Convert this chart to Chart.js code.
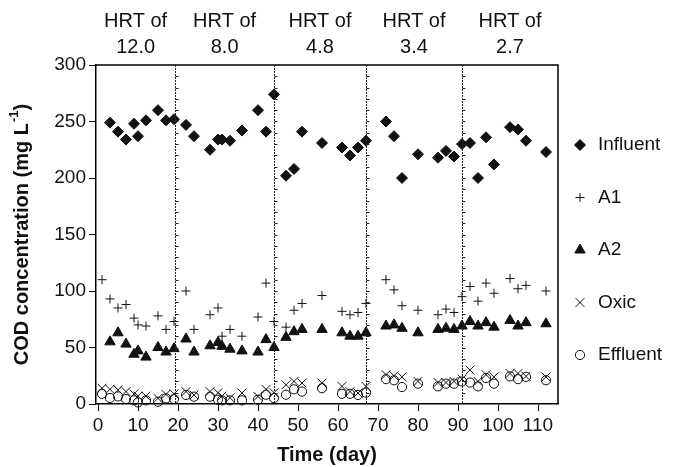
<!DOCTYPE html>
<html>
<head>
    <title>COD concentration</title>
    <script src="https://cdn.jsdelivr.net/npm/chart.js"></script>
    <style>
        body {
            margin: 0;
            background-color: #fff;
        }
        #chartBox {
            width: 673px;
            height: 467px;
        }
    </style>
</head>
<body>
    <div id="chartBox">
        <canvas id="codChart"></canvas>
    </div>

    <script>
        // sampling days
        const days = [1, 3, 5, 7, 9, 10, 12, 15, 17, 19, 22, 24, 28, 30, 31, 33, 36, 40, 42, 44,
                      47, 49, 51, 56, 61, 63, 65, 67, 72, 74, 76, 80, 85, 87, 89, 91, 93, 95, 97, 99,
                      103, 105, 107, 112];

        // COD values (mg/L), null = not measured
        const influent = [null, 249, 241, 234, 248, 237, 251, 260, 251, 252, 247, 237, 225, 234, 234, 233, 242, 260, 241, 274,
                          202, 208, 241, 231, 227, 220, 227, 233, 250, 237, 200, 221, 218, 224, 219, 230, 231, 200, 236, 212,
                          245, 243, 233, 223];
        const a1 = [110, 93, 85, 88, 76, 70, 69, 78, 66, 73, 100, 66, 79, 85, 60, 66, 60, 77, 107, 73,
                    68, 83, 89, 96, 82, 79, 81, 89, 110, 101, 87, 83, 79, 84, 81, 95, 104, 91, 107, 98,
                    111, 102, 105, 100];
        const a2 = [null, 55, 63, 53, 44, 47, 41.5, 50, 46, 49, 57.5, 46, 51.5, 54.5, 51, 48.5, 47, 46, 57, 50,
                    59, 64, 66, 66, 63, 60, 60, 63, 69, 70, 67, 63, 66, 67, 66, 69, 73, 69, 72, 68,
                    74, 69, 72, 71];
        const oxic = [14, 13, 12.5, 11, 9, 7, 7, 5, 8.5, 9, 11, 8, 11, 10, 7, 5.5, 9.7, 6.7, 13, 10,
                      17, 20, 18.5, 18.6, 15.6, 11, 9.7, 15.6, 26, 25, 24, 20, 19, 19, 20, 22, 30, 20, 26, 24,
                      27, 27, 24.5, 24];
        const effluent = [9, 5.3, 6.7, 4.4, 3.2, 1.4, 3.2, 2, 5, 4.4, 8, 6.5, 6.5, 3.8, 3.2, 3.2, 3.2, 3.8, 8.2, 5.3,
                          8.2, 13, 11, 14, 9, 9, 8, 10, 22, 21, 15, 18, 15.6, 18, 18, 20, 19, 15.6, 23, 18,
                          24.4, 22, 24, 21];

        const xTicks = [0, 10, 20, 30, 40, 50, 60, 70, 80, 90, 100, 110];
        const hrtChanges = [19.3, 44, 67, 91];      // days where HRT changed
        const hrtLabels = ['12.0', '8.0', '4.8', '3.4', '2.7'];
        const seriesNames = ['Influent', 'A1', 'A2', 'Oxic', 'Effluent'];

        function toPoints(values) {
            var pts = [];
            for (var i = 0; i < days.length; i++) {
                if (values[i] !== null) pts.push({ x: days[i], y: values[i] });
            }
            return pts;
        }

        const ink = '#111';
        const markers = [
            { pointStyle: 'rectRot', radius: 5.5, backgroundColor: ink, borderWidth: 1 },
            { pointStyle: 'cross', radius: 4.5, backgroundColor: 'rgba(0,0,0,0)', borderWidth: 1 },
            { pointStyle: 'triangle', radius: 6, backgroundColor: ink, borderWidth: 1 },
            { pointStyle: 'crossRot', radius: 6.2, backgroundColor: 'rgba(0,0,0,0)', borderWidth: 1 },
            { pointStyle: 'circle', radius: 4.6, backgroundColor: 'rgba(0,0,0,0)', borderWidth: 1 }
        ];
        const allSeries = [influent, a1, a2, oxic, effluent];

        const datasets = allSeries.map(function(vals, i) {
            return {
                label: seriesNames[i],
                data: toPoints(vals),
                pointStyle: markers[i].pointStyle,
                pointRadius: markers[i].radius,
                pointBackgroundColor: markers[i].backgroundColor,
                pointBorderColor: ink,
                pointBorderWidth: markers[i].borderWidth,
                showLine: false,
                clip: false
            };
        });

        // frame, HRT separators, labels, y title and legend
        const decorations = {
            id: 'decorations',
            afterDraw(chart) {
                const ctx = chart.ctx;
                const area = chart.chartArea;
                const xs = chart.scales.x;
                const ys = chart.scales.y;
                ctx.save();

                // top and right frame
                ctx.strokeStyle = '#000';
                ctx.lineWidth = 1.5;
                ctx.beginPath();
                ctx.moveTo(area.left, area.top);
                ctx.lineTo(area.right, area.top);
                ctx.lineTo(area.right, area.bottom);
                ctx.stroke();

                // HRT separator lines (dotted, with small ticks)
                ctx.lineWidth = 1;
                ctx.strokeStyle = '#222';
                hrtChanges.forEach(function(d) {
                    var px = Math.round(xs.getPixelForValue(d)) + 0.5;
                    ctx.setLineDash([2, 1]);
                    ctx.beginPath();
                    ctx.moveTo(px, area.top);
                    ctx.lineTo(px, area.bottom);
                    ctx.stroke();
                    ctx.setLineDash([]);
                    for (var v = 10; v < 300; v += 10) {
                        var py = Math.round(ys.getPixelForValue(v)) + 0.5;
                        ctx.beginPath();
                        ctx.moveTo(px, py);
                        ctx.lineTo(px + 3, py);
                        ctx.stroke();
                    }
                });

                // HRT labels centred in each period
                var bounds = [area.left].concat(hrtChanges.map(function(d) { return xs.getPixelForValue(d); }), [area.right]);
                ctx.fillStyle = '#111';
                ctx.font = '20px "Liberation Sans", Arial, sans-serif';
                ctx.textAlign = 'center';
                ctx.textBaseline = 'middle';
                for (var i = 0; i < hrtLabels.length; i++) {
                    var cx = (bounds[i] + bounds[i + 1]) / 2;
                    ctx.fillText('HRT of', cx, 21);
                    ctx.fillText(hrtLabels[i], cx, 47);
                }

                // y axis title with superscript
                ctx.translate(22, (area.top + area.bottom) / 2);
                ctx.rotate(-Math.PI / 2);
                var mainFont = 'bold 20px "Liberation Sans", Arial, sans-serif';
                var supFont = 'bold 13px "Liberation Sans", Arial, sans-serif';
                ctx.font = mainFont;
                var t1 = 'COD concentration (mg L';
                var w1 = ctx.measureText(t1).width;
                var w3 = ctx.measureText(')').width;
                ctx.font = supFont;
                var w2 = ctx.measureText('-1').width + 1;
                var start = -(w1 + w2 + w3) / 2;
                ctx.textAlign = 'left';
                ctx.font = mainFont;
                ctx.fillText(t1, start, 0);
                ctx.font = supFont;
                ctx.fillText('-1', start + w1 + 1, -8);
                ctx.font = mainFont;
                ctx.fillText(')', start + w1 + w2, 0);
                ctx.restore();

                // legend
                ctx.save();
                var legendY = [145, 197.5, 250, 302.5, 355];
                ctx.font = '19px "Liberation Sans", Arial, sans-serif';
                ctx.textAlign = 'left';
                ctx.textBaseline = 'middle';
                ctx.fillStyle = '#111';
                ctx.strokeStyle = ink;
                for (var k = 0; k < seriesNames.length; k++) {
                    ctx.fillStyle = markers[k].backgroundColor;
                    ctx.lineWidth = markers[k].borderWidth;
                    Chart.helpers.drawPoint(ctx, {
                        pointStyle: markers[k].pointStyle,
                        radius: markers[k].radius,
                        borderWidth: markers[k].borderWidth,
                        rotation: 0
                    }, 580, legendY[k]);
                    ctx.fillStyle = '#111';
                    ctx.fillText(seriesNames[k], 598, legendY[k]);
                }
                ctx.restore();
            }
        };

        Chart.defaults.font.family = '"Liberation Sans", Arial, sans-serif';
        Chart.defaults.color = '#111';

        new Chart(document.getElementById('codChart'), {
            type: 'scatter',
            data: { datasets: datasets },
            options: {
                responsive: true,
                maintainAspectRatio: false,
                animation: false,
                layout: { padding: { left: 0, top: 65, right: 115, bottom: 0 } },
                plugins: {
                    legend: { display: false },
                    tooltip: { enabled: false }
                },
                scales: {
                    x: {
                        type: 'linear',
                        min: -0.5,
                        max: 115,
                        afterBuildTicks: function(scale) {
                            scale.ticks = xTicks.map(function(v) { return { value: v }; });
                        },
                        afterFit: function(scale) { scale.height = 63; },
                        border: { display: true, color: '#000', width: 1.5 },
                        grid: { display: true, drawOnChartArea: false, drawTicks: true, tickLength: 7, color: '#000' },
                        ticks: { font: { size: 19 }, padding: 3, maxRotation: 0, color: '#111' },
                        title: {
                            display: true,
                            text: 'Time (day)',
                            font: { size: 20, weight: 'bold' },
                            padding: { top: 0, bottom: 0 },
                            color: '#111'
                        }
                    },
                    y: {
                        min: 0,
                        max: 300,
                        afterFit: function(scale) { scale.width = 96; },
                        border: { display: true, color: '#000', width: 1.5 },
                        grid: { display: true, drawOnChartArea: false, drawTicks: true, tickLength: 7, color: '#000' },
                        ticks: { stepSize: 50, font: { size: 19 }, padding: 3, color: '#111' }
                    }
                }
            },
            plugins: [decorations]
        });
    </script>
</body>
</html>
